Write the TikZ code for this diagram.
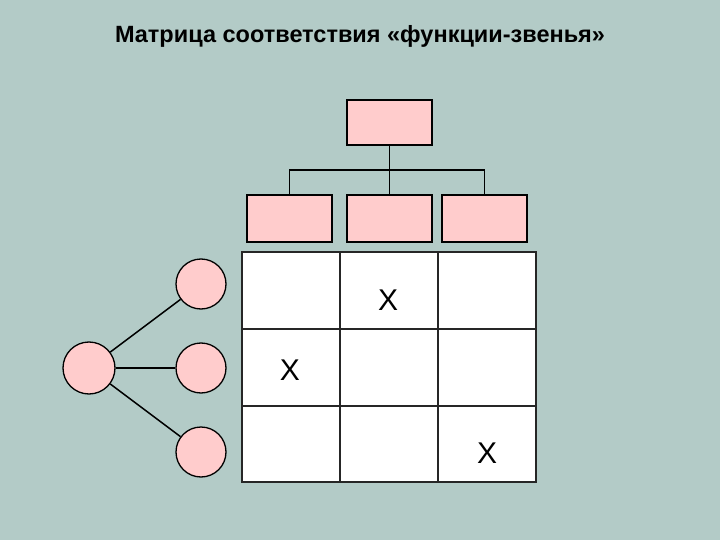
\documentclass[tikz,border=0pt]{standalone}
\usepackage{fontspec}
\setmainfont{Liberation Sans}
\begin{document}
\begin{tikzpicture}[x=1pt,y=-1pt,
  bx/.style={draw=black,fill=pinkf,line width=1.3pt},
  cir/.style={circle,draw=black,fill=pinkf,line width=1.3pt,minimum size=50pt,inner sep=0pt},
  ln/.style={line width=1.5pt},
  xl/.style={font=\fontsize{30}{30}\selectfont}]
\definecolor{bgc}{HTML}{B3CBC7}
\definecolor{pinkf}{HTML}{FFCCCC}
\fill[bgc] (0,0) rectangle (720,540);
\useasboundingbox (0,0) rectangle (720,540);
\node[font=\bfseries\fontsize{23.5}{26}\selectfont] (title) at (360,36) {Матрица соответствия «функции-звенья»};
\node[bx,minimum width=85pt,minimum height=45pt,inner sep=0pt] (top) at (389.5,122.5) {};
\node[bx,minimum width=85pt,minimum height=47pt,inner sep=0pt] (b1) at (289.5,218.5) {};
\node[bx,minimum width=85pt,minimum height=47pt,inner sep=0pt] (b2) at (389.5,218.5) {};
\node[bx,minimum width=85pt,minimum height=47pt,inner sep=0pt] (b3) at (484.5,218.5) {};
\coordinate (j) at (389.5,170);
\draw[ln] (top.south) -- (j);
\draw[ln] (b1.north) |- (j) -| (b3.north);
\draw[ln] (j) -- (b2.north);
\fill[white] (242,252) rectangle (536,482);
\draw[line width=2.5pt,draw=black!85] (242,252) rectangle (536,482)
  (340,252) -- (340,482) (438,252) -- (438,482)
  (242,329) -- (536,329) (242,406) -- (536,406);
\node[xl] (x1) at (388,300) {X};
\node[xl] (x2) at (290,370) {X};
\node[xl] (x3) at (487,453) {X};
\node[cir] (c1) at (201,284) {};
\node[cir] (c2) at (201,368) {};
\node[cir] (c3) at (201,452) {};
\node[cir,minimum size=52pt] (c0) at (89,368) {};
\draw[ln] (c0) -- (c1);
\draw[ln] (c0) -- (c2);
\draw[ln] (c0) -- (c3);
\end{tikzpicture}
\end{document}
